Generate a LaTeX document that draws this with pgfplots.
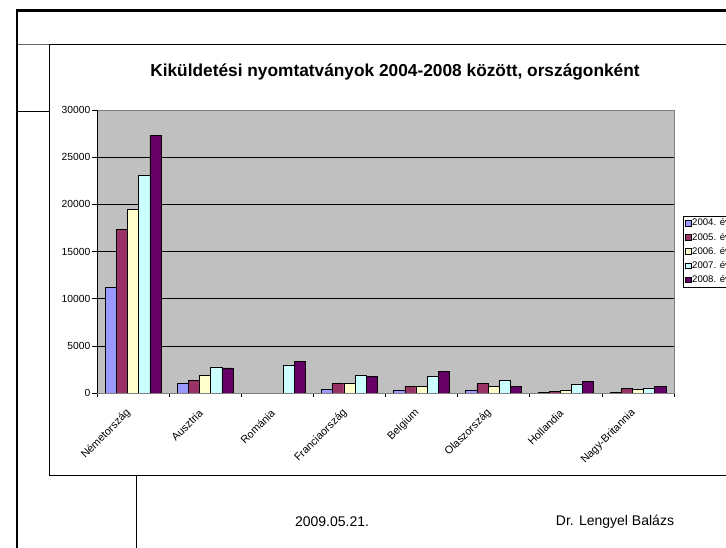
\documentclass[border=0pt]{standalone}
\usepackage{pgfplots}
\pgfplotsset{compat=1.18}
\usepackage{fontspec}
\setmainfont{Liberation Sans}
\definecolor{cA}{HTML}{9999FF}
\definecolor{cB}{HTML}{993366}
\definecolor{cC}{HTML}{FFFFCC}
\definecolor{cD}{HTML}{CCFFFF}
\definecolor{cE}{HTML}{660066}
\definecolor{plotbg}{HTML}{C0C0C0}
\begin{document}
\begin{tikzpicture}[x=1bp,y=1bp]
\useasboundingbox (0,0) rectangle (726,548);
\clip (0,0) rectangle (726,548);
% slide frame
\draw[line width=2.6bp] (17,0) -- (17,537.7) -- (730,537.7);
\draw[gray!80!black, line width=1bp] (18,503.7) -- (49.7,503.7);
\draw[line width=0.7bp] (18,437) -- (49.7,437);
\draw[line width=0.8bp] (740,503.7) -- (49.7,503.7) -- (49.7,72.3) -- (740,72.3);
\draw[line width=0.7bp] (136.7,72.3) -- (136.7,-2);
% footer
\node[font=\fontsize{14bp}{16bp}\selectfont] at (332,26) {2009.05.21.};
\node[font=\fontsize{14bp}{16bp}\selectfont] at (615,26) {Dr. Lengyel Balázs};
% title
\node[font=\fontsize{17.3bp}{19bp}\selectfont\bfseries] at (395,476) {Kiküldetési nyomtatványok 2004-2008 között, országonként};
\begin{axis}[
  at={(97bp,155bp)}, anchor=south west,
  scale only axis, width=577bp, height=283bp,
  ybar=0pt, bar width=0.155,
  xmin=-0.5, xmax=7.5, ymin=0, ymax=30000,
  ytick={0,5000,...,30000},
  scaled y ticks=false,
  xtick={0,...,7},
  xticklabels={Németország,Ausztria,Románia,Franciaország,Belgium,Olaszország,Hollandia,Nagy-Britannia},
  minor xtick={-0.5,0.5,...,7.5},
  x tick style={draw=none},
  minor x tick style={draw=black, line width=0.6bp},
  minor tick length=4bp,
  y tick style={black, line width=0.6bp},
  major tick length=5bp,
  tick align=outside, tick pos=left,
  ymajorgrids, grid style={black, line width=0.6bp},
  axis background/.style={fill=plotbg},
  axis line style={gray, line width=0.8bp},
  /pgf/number format/1000 sep={},
  /pgf/number format/assume math mode=true,
  yticklabel style={font=\fontsize{10.3bp}{12bp}\selectfont, inner sep=1.5bp},
  xticklabel style={font=\fontsize{10.8bp}{12bp}\selectfont, xshift=-3.5bp, yshift=-12.5bp, rotate=45, anchor=east, inner sep=1bp},
  legend style={at={(1.0151,0.6265)}, anchor=north west, draw=black, fill=white,
    font=\fontsize{9.6bp}{11bp}\selectfont, inner xsep=2bp, inner ysep=2bp,
    row sep=3.6bp, nodes={inner sep=1bp}, cells={anchor=west}},
  legend image code/.code={\draw[#1,draw=black,line width=0.5bp] (0bp,-2.9bp) rectangle (5.8bp,2.9bp);},
]
\addplot[fill=cA, draw=black, line width=0.6bp] coordinates {(0,11160) (1,1060) (3,420) (4,320) (5,320) (6,70) (7,100)};
\addplot[fill=cB, draw=black, line width=0.6bp] coordinates {(0,17380) (1,1310) (3,990) (4,740) (5,990) (6,210) (7,460)};
\addplot[fill=cC, draw=black, line width=0.6bp] coordinates {(0,19500) (1,1840) (3,1060) (4,740) (5,740) (6,320) (7,390)};
\addplot[fill=cD, draw=black, line width=0.6bp] coordinates {(0,23030) (1,2760) (2,2970) (3,1910) (4,1770) (5,1310) (6,950) (7,530)};
\addplot[fill=cE, draw=black, line width=0.6bp] coordinates {(0,27280) (1,2650) (2,3390) (3,1770) (4,2330) (5,740) (6,1270) (7,670)};
\legend{2004. év,2005. év,2006. év,2007. év,2008. év}
\draw[black, line width=0.8bp] (rel axis cs:0,1) -- (rel axis cs:0,0) -- (rel axis cs:1,0);
\end{axis}
\end{tikzpicture}
\end{document}
